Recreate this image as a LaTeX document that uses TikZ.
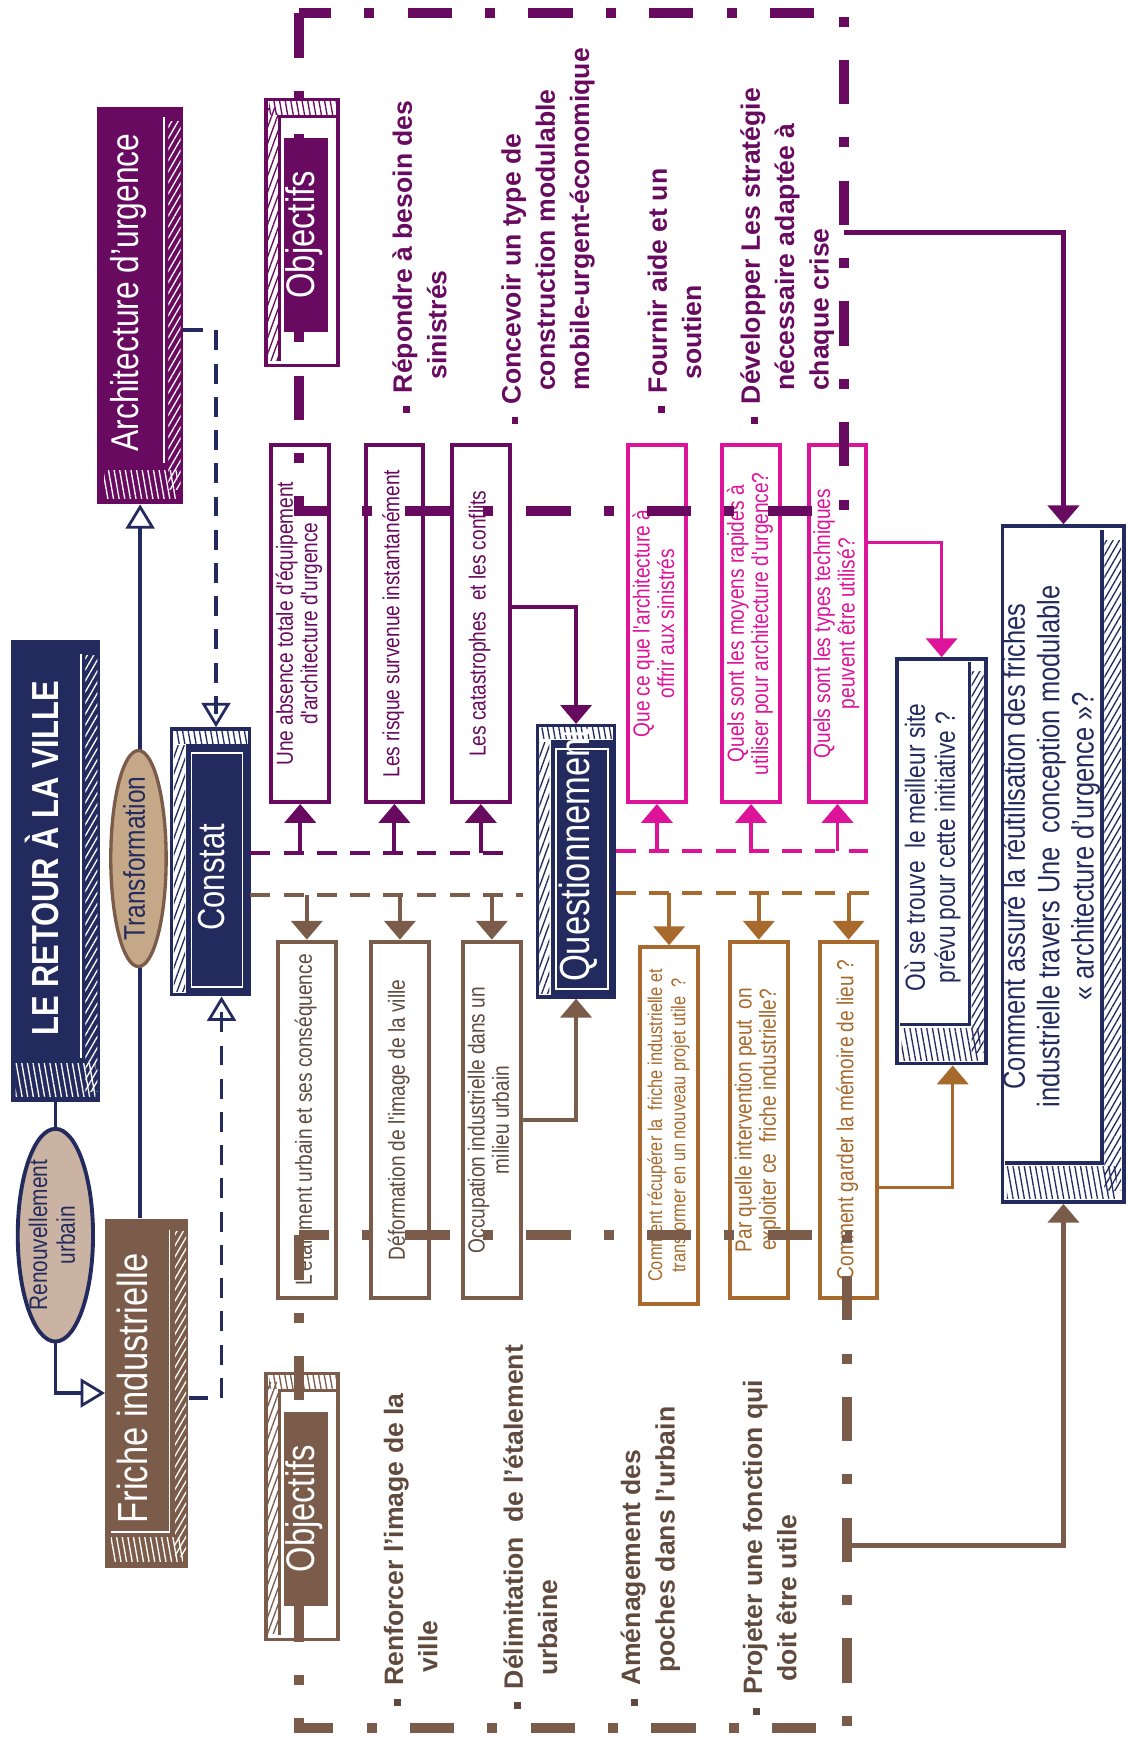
\documentclass[tikz,border=0pt]{standalone}
\usepackage{fontspec}
\usepackage{graphicx}
\setmainfont{Liberation Sans}
\newfontfamily\narrowfont[FakeStretch=0.82]{Liberation Sans}
\usetikzlibrary{arrows.meta,patterns.meta,shapes.geometric}
\definecolor{navy}{HTML}{232B5E}
\definecolor{purp}{HTML}{680A5F}
\definecolor{rosevif}{HTML}{DD1399}
\definecolor{brun}{HTML}{7B5C4A}
\definecolor{ocre}{HTML}{A8692C}
\definecolor{sable}{HTML}{C4A888}
\definecolor{beige}{HTML}{CBB3A3}
\definecolor{brungris}{HTML}{5F4A3D}
\newcommand{\vtext}[1]{\rotatebox{90}{\begin{tabular}{@{}c@{}}#1\end{tabular}}}
\newcommand{\vlist}[1]{\rotatebox{90}{\begin{tabular}{@{}l@{}}#1\end{tabular}}}
\newcommand{\puce}{\rule[2pt]{6pt}{6pt}\hspace{12pt}}
\newcommand{\retrait}{\hspace{30pt}}
\tikzset{
  qbox/.style={draw=#1, text=#1, fill=white, line width=3.5pt, minimum width=52pt, minimum height=322pt, inner sep=0pt, font=\narrowfont\fontsize{21}{22}\selectfont},
  titre/.style={text=white, inner sep=0pt, font=\narrowfont\fontsize{#1}{#1}\selectfont},
  liste/.style={text=#1, anchor=south west, inner sep=0pt, font=\bfseries\fontsize{24}{31}\selectfont},
  cadre/.style={draw=#1, line width=9pt, dash pattern=on 40pt off 30pt on 9pt off 30pt},
  tirets/.style={draw=#1, line width=3.5pt, dash pattern=on 18pt off 12pt},
  fleche/.style={draw=#1, line width=3.5pt, -{Triangle[width=28pt,length=17pt]}},
  navyfleche/.style={draw=navy, line width=3pt, -{Triangle[open,width=26pt,length=22pt,line width=2.5pt]}},
  hach/.style={pattern={Lines[angle=#1,distance=5pt,line width=1.2pt]}},
  faceblanche/.style={draw=#1, fill=white, line width=3pt, inner sep=0pt},
}
\begin{document}
\begin{tikzpicture}[x=1pt,y=-1pt]
\useasboundingbox (0,0) rectangle (1019,1568);

\node[fill=purp, minimum width=77pt, minimum height=358pt, inner sep=0pt] (arch) at (126.5,276) {};
\fill[hach=60, pattern color=white] (152,110) rectangle (163,442);
\fill[hach=100, pattern color=white] (94,425) rectangle (160,450);
\draw[white, line width=1.5pt] (148,106) -- (148,418);
\node[titre=35] (archtxt) at (118,264) {\vtext{Architecture d’urgence}};

\node[fill=navy, minimum width=80pt, minimum height=417pt, inner sep=0pt] (retour) at (50,786.5) {};
\fill[hach=60, pattern color=white] (77,592) rectangle (88,985);
\fill[hach=100, pattern color=white] (14,960) rectangle (86,990);
\draw[white, line width=1.5pt] (73,590) -- (73,955);
\node[text=white, inner sep=0pt, font=\narrowfont\bfseries\fontsize{34}{34}\selectfont] (retourtxt) at (43,775) {\vtext{LE RETOUR À LA VILLE}};

\node[fill=brun, minimum width=75pt, minimum height=315pt, inner sep=0pt] (friche) at (132.5,1257.5) {};
\fill[hach=60, pattern color=white] (158,1112) rectangle (168,1405);
\fill[hach=100, pattern color=white] (100,1388) rectangle (165,1410);
\draw[white, line width=1.5pt] (153,1110) -- (153,1383) -- (100,1383);
\node[titre=38] (frichetxt) at (125,1253) {\vtext{Friche industrielle}};

\node[faceblanche=navy, minimum width=70pt, minimum height=240pt] (cst) at (190,778) {};
\fill[hach=70, pattern color=navy] (157,673) rectangle (167,895);
\fill[hach=100, pattern color=navy] (158,660) rectangle (223,671);
\fill[navy] (168,672) rectangle (225,898);
\draw[white, line width=1.5pt] (173,680) rectangle (219,891);
\node[titre=34] (csttxt) at (196,792) {\vtext{Constat}};

\node[faceblanche=navy, minimum width=70pt, minimum height=245pt] (qst) at (520,777.5) {};
\fill[hach=70, pattern color=navy] (487,670) rectangle (496,897);
\fill[hach=100, pattern color=navy] (488,657) rectangle (553,667);
\fill[navy] (497,668) rectangle (555,900);
\draw[white, line width=1.5pt] (502,676) rectangle (549,893);
\node[titre=38] (qsttxt) at (524,772) {\vtext{Questionnement}};

\draw[navyfleche] (friche.north -| arch.south) -- (arch.south);
\node[ellipse, fill=sable, draw=brun, line width=3pt, minimum width=50pt, minimum height=195pt, inner sep=0pt] (transf) at (125,775) {};
\node[text=navy, inner sep=0pt, font=\narrowfont\fontsize{27}{27}\selectfont] (transftxt) at (transf.center) {\vtext{Transformation}};
\node[ellipse, fill=beige, draw=navy, line width=3.5pt, minimum width=68pt, minimum height=192pt, inner sep=0pt] (renouv) at (50,1115) {};
\node[text=navy, inner sep=0pt, font=\narrowfont\fontsize{23}{25}\selectfont] (renouvtxt) at (renouv.center) {\vtext{Renouvellement\\urbain}};
\draw[navy, line width=3pt] (retour.south) -- (renouv.north);
\draw[navyfleche] (renouv.south) |- (friche.west);

\coordinate (a1) at (195,298);
\coordinate (f1) at (200,1262);
\draw[navy, line width=3.5pt, dash pattern=on 18pt off 12pt] (arch.east |- a1) -- (a1) -- ([yshift=12pt]a1 |- cst.north);
\draw[navyfleche] ([yshift=14pt]a1 |- cst.north) -- (a1 |- cst.north);
\draw[navy, line width=3.5pt, dash pattern=on 18pt off 12pt] (friche.east |- f1) -- (f1) -- ([yshift=-14pt]f1 |- cst.south);
\draw[navyfleche] ([yshift=-16pt]f1 |- cst.south) -- (f1 |- cst.south);

\node[qbox=purp] (q1) at (271,563) {\vtext{Une absence totale d'équipement\\d'architecture d'urgence}};
\node[qbox=purp] (q2) at (356,563) {\vtext{Les risque survenue instantanément}};
\node[qbox=purp] (q3) at (434,563) {\vtext{Les catastrophes\ \ et les conflits}};
\node[qbox=rosevif] (q4) at (593,563) {\vtext{Que ce que l'architecture à\\offrir aux sinistrés}};
\node[qbox=rosevif] (q5) at (678,563) {\vtext{Quels sont les moyens rapides à\\utiliser pour architecture d'urgence?}};
\node[qbox=rosevif] (q6) at (756,563) {\vtext{Quels sont les types techniques\\peuvent être utilisé?}};
\node[qbox=brun, text=brungris] (c1) at (277,1011) {\vtext{L'étalement urbain et ses conséquence}};
\node[qbox=brun, text=brungris] (c2) at (361,1011) {\vtext{Déformation de l'image de la ville}};
\node[qbox=brun, text=brungris] (c3) at (444,1011) {\vtext{Occupation industrielle dans un\\milieu urbain}};
\node[qbox=ocre, font=\narrowfont\fontsize{18}{21}\selectfont] (c4) at (604,1016) {\vtext{Comment récupérer la\ \ friche industrielle et\\transformer en un nouveau projet utile\ \ ?}};
\node[qbox=ocre] (c5) at (685,1011) {\vtext{Par quelle intervention peut\ \ on\\exploiter ce\ \ friche industrielle?}};
\node[qbox=ocre] (c6) at (766,1011) {\vtext{Comment garder la mémoire de lieu ?}};

\coordinate (pd) at (226,770);
\coordinate (kd) at (556,768);
\coordinate (bd) at (226,808);
\coordinate (od) at (556,806);
\draw[tirets=purp] (pd) -- (q3.east |- pd);
\draw[tirets=rosevif] (kd) -- (q6.east |- kd);
\draw[tirets=brun] (bd) -- (c3.east |- bd);
\draw[tirets=ocre] (od) -- (c6.east |- od);
\draw[fleche=purp] (q1.south |- pd) -- (q1.south);
\draw[fleche=purp] (q2.south |- pd) -- (q2.south);
\draw[fleche=purp] (q3.south |- pd) -- (q3.south);
\draw[fleche=rosevif] (q4.south |- kd) -- (q4.south);
\draw[fleche=rosevif] (q5.south |- kd) -- (q5.south);
\draw[fleche=rosevif] (q6.south |- kd) -- (q6.south);
\draw[fleche=brun] (c1.north |- bd) -- (c1.north);
\draw[fleche=brun] (c2.north |- bd) -- (c2.north);
\draw[fleche=brun] (c3.north |- bd) -- (c3.north);
\draw[fleche=ocre] (c4.north |- od) -- (c4.north);
\draw[fleche=ocre] (c5.north |- od) -- (c5.north);
\draw[fleche=ocre] (c6.north |- od) -- (c6.north);

\draw[fleche=purp, line width=3pt] (q3.east |- 0,548) -| (qst.north);
\draw[fleche=brun, line width=3pt] (c3.east) -| (qst.south);

\node[faceblanche=navy, line width=3.5pt, minimum width=80pt, minimum height=365pt] (ou) at (850,777.5) {};
\fill[hach=60, pattern color=navy] (877,606) rectangle (888,950);
\fill[hach=100, pattern color=navy] (814,928) rectangle (885,957);
\draw[navy, line width=3pt] (875,598) -- (875,925) -- (812,925);
\node[text=navy, inner sep=0pt, font=\narrowfont\fontsize{25}{27}\selectfont] (outxt) at (843,765) {\vtext{Où se trouve\ \ le meilleur site\\prévu pour cette initiative ?}};

\node[faceblanche=navy, line width=3.5pt, minimum width=110pt, minimum height=610pt] (com) at (960,780) {};
\fill[hach=60, pattern color=navy] (997,488) rectangle (1012,1075);
\fill[hach=100, pattern color=navy] (909,1053) rectangle (1008,1082);
\draw[navy, line width=3.5pt] (995,478) -- (995,1050) -- (907,1050);
\node[text=navy, inner sep=0pt, font=\narrowfont\fontsize{28}{31}\selectfont] (comtxt) at (950,764) {\vtext{Comment assuré la réutilisation des friches\\industrielle travers Une\ \ conception modulable\\« architecture d’urgence »?}};

\coordinate (k1) at (852,490);
\coordinate (o1) at (860,1072);
\coordinate (p1) at (762,210);
\coordinate (b1) at (765,1395);
\draw[fleche=rosevif, line width=3pt] (q6.east |- k1) -| (ou.north);
\draw[fleche=ocre, line width=3pt] (c6.east |- o1) -| (o1 |- ou.south);
\draw[fleche=purp, line width=4.5pt] (p1) -| (com.north);
\draw[fleche=brun, line width=4pt] (b1) -| (com.south);

\node[faceblanche=purp, minimum width=65pt, minimum height=240pt] (objp) at (272.5,210) {};
\fill[hach=70, pattern color=purp] (242,98) rectangle (251,325);
\fill[hach=100, pattern color=purp] (243,91) rectangle (303,103);
\draw[purp, line width=2.5pt] (252,326) -- (252,105) -- (305,105);
\node[faceblanche=brun, minimum width=65pt, minimum height=240pt] (objb) at (272.5,1360) {};
\fill[hach=70, pattern color=brun] (242,1248) rectangle (251,1475);
\fill[hach=100, pattern color=brun] (243,1241) rectangle (303,1253);
\draw[brun, line width=2.5pt] (252,1476) -- (252,1255) -- (305,1255);

\draw[cadre=purp] (270,12) rectangle (762,461);
\draw[cadre=brun] (270,1115) rectangle (765,1560);

\node[titre=36, fill=purp, minimum width=40pt, minimum height=175pt] (objptxt) at (276,212) {\vtext{Objectifs}};
\node[titre=36, fill=brun, minimum width=40pt, minimum height=175pt] (objbtxt) at (276,1362) {\vtext{Objectifs}};

\node[liste=purp] (lp1) at (350,373) {\vlist{\puce Répondre à besoin des\\ \retrait sinistrés}};
\node[liste=purp] (lp2) at (448,383) {\vlist{\puce Concevoir un type de\\ \retrait construction modulable\\ \retrait mobile-urgent-économique}};
\node[liste=purp] (lp3) at (580,373) {\vlist{\puce Fournir aide et un\\ \retrait soutien}};
\node[liste=purp] (lp4) at (664,383) {\vlist{\puce Développer Les stratégie\\ \retrait nécessaire adaptée à\\ \retrait chaque crise}};
\node[liste=brungris] (lb1) at (342,1540) {\vlist{\puce Renforcer l’image de la\\ \retrait ville}};
\node[liste=brungris] (lb2) at (450,1543) {\vlist{\puce Délimitation\ \ de l’étalement\\ \retrait urbaine}};
\node[liste=brungris] (lb3) at (556,1540) {\vlist{\puce Aménagement des\\ \retrait poches dans l’urbain}};
\node[liste=brungris] (lb4) at (666,1548) {\vlist{\puce Projeter une fonction qui\\ \retrait doit être utile}};
\end{tikzpicture}
\end{document}
